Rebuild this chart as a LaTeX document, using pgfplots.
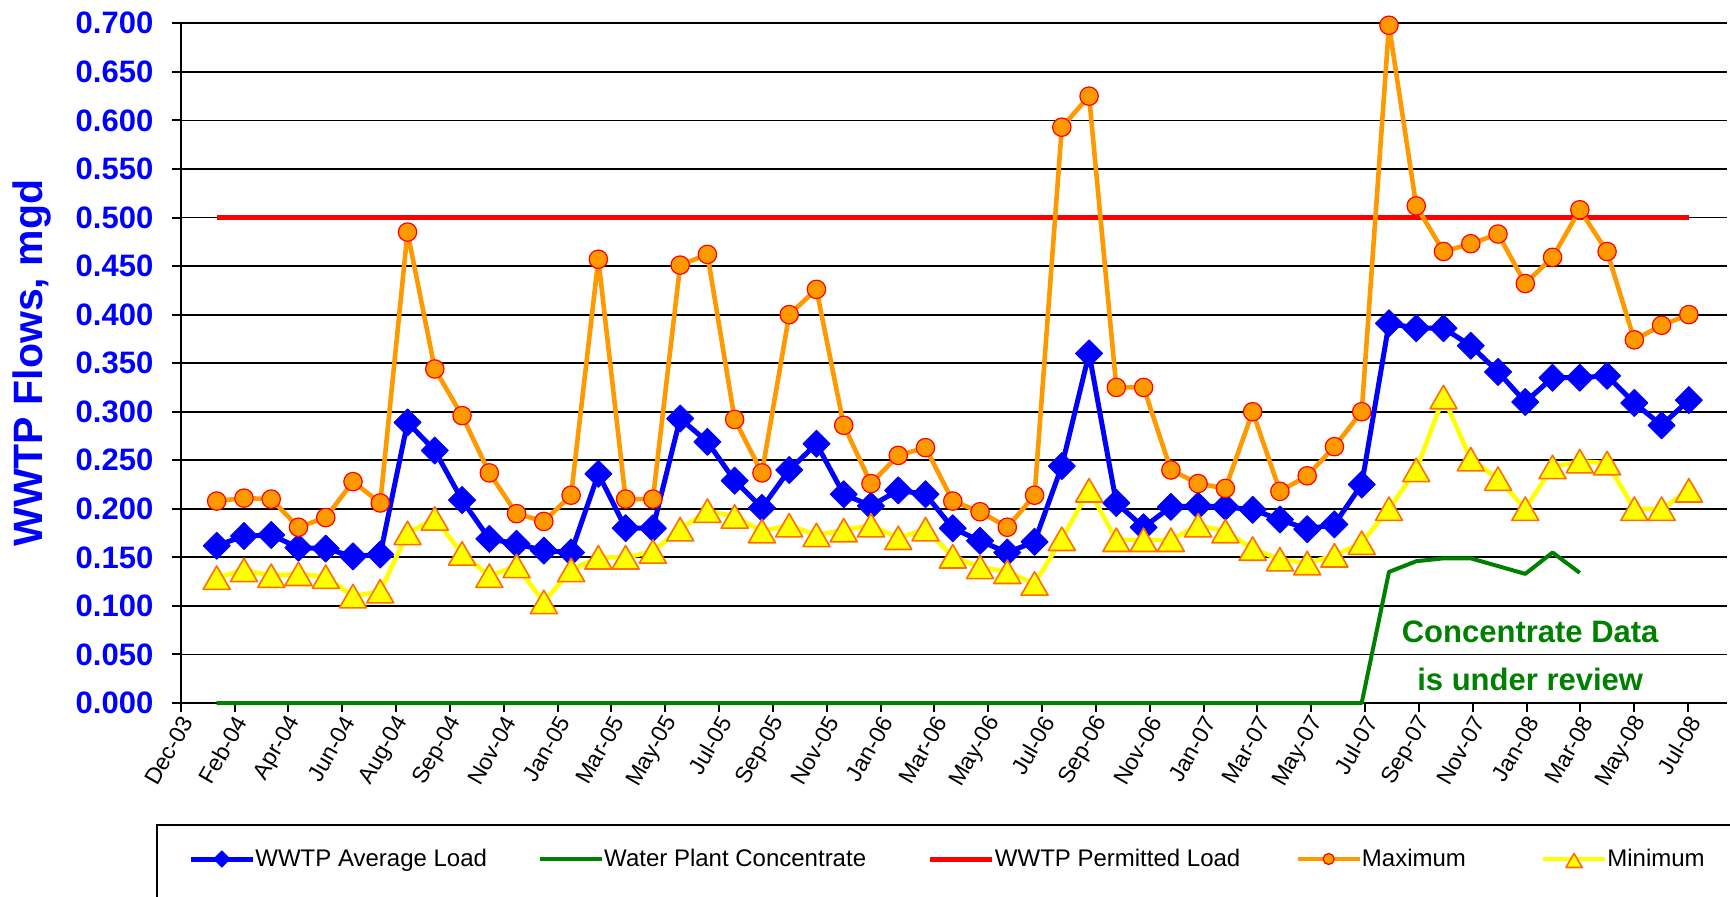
\documentclass[border=0pt]{standalone}
\usepackage{pgfplots}
\pgfplotsset{compat=1.18}
\usepackage{pgfplotstable}
\usepackage{fontspec}
\setmainfont{Liberation Sans}
\definecolor{xlblue}{RGB}{0,0,255}
\definecolor{xlgreen}{RGB}{0,128,0}
\definecolor{xlred}{RGB}{255,0,0}
\definecolor{xlorange}{RGB}{255,153,0}
\definecolor{xlyellow}{RGB}{255,255,0}
\definecolor{xltri}{RGB}{255,110,0}

\pgfplotstableread{
u avg max min
0 0.162 0.208 0.129
1 0.172 0.211 0.137
2 0.173 0.210 0.131
3 0.160 0.181 0.133
4 0.159 0.191 0.130
5 0.151 0.228 0.110
6 0.153 0.206 0.115
7 0.289 0.485 0.175
8 0.260 0.344 0.190
9 0.209 0.296 0.154
10 0.169 0.237 0.131
11 0.164 0.195 0.141
12 0.157 0.187 0.104
13 0.155 0.214 0.137
14 0.236 0.457 0.150
15 0.180 0.210 0.150
16 0.180 0.210 0.156
17 0.293 0.451 0.179
18 0.269 0.462 0.198
19 0.229 0.292 0.192
20 0.201 0.237 0.177
21 0.240 0.400 0.183
22 0.267 0.426 0.173
23 0.215 0.286 0.178
24 0.203 0.226 0.183
25 0.219 0.255 0.170
26 0.215 0.263 0.179
27 0.180 0.208 0.151
28 0.167 0.197 0.140
29 0.155 0.181 0.135
30 0.166 0.214 0.123
31 0.244 0.593 0.169
32 0.360 0.625 0.219
33 0.206 0.325 0.168
34 0.181 0.325 0.168
35 0.202 0.240 0.168
36 0.203 0.226 0.183
37 0.202 0.221 0.177
38 0.199 0.300 0.159
39 0.189 0.218 0.148
40 0.179 0.234 0.144
41 0.184 0.264 0.152
42 0.225 0.300 0.165
43 0.391 0.698 0.200
44 0.386 0.512 0.240
45 0.386 0.465 0.315
46 0.368 0.473 0.251
47 0.341 0.483 0.231
48 0.310 0.432 0.200
49 0.335 0.459 0.243
50 0.335 0.508 0.249
51 0.337 0.465 0.247
52 0.309 0.374 0.200
53 0.286 0.389 0.200
54 0.312 0.400 0.219
}\flows

\pgfplotstableread{
u conc
0 0
42 0
43 0.135
44 0.146
45 0.149
46 0.149
47 0.141
48 0.133
49 0.155
50 0.134
}\conc

\pgfplotstableread{
u permit
0 0.5
54 0.5
}\permit

\begin{document}
\begin{tikzpicture}
\begin{axis}[
  at={(0pt,0pt)}, anchor=south west,
  scale only axis, width=773.15pt, height=339.85pt,
  xmin=-1.32, xmax=55.4, ymin=0, ymax=0.7,
  clip=false,
  axis x line=bottom, axis y line=left,
  axis line style={-, line width=1pt, black},
  ymajorgrids, grid style={black, line width=0.9pt},
  tick align=outside, major tick length=4.5pt,
  tick style={black, line width=1pt},
  ytick={0,0.05,0.1,0.15,0.2,0.25,0.3,0.35,0.4,0.45,0.5,0.55,0.6,0.65,0.7},
  yticklabels={0.000,0.050,0.100,0.150,0.200,0.250,0.300,0.350,0.400,0.450,0.500,0.550,0.600,0.650,0.700},
  y tick label style={font=\fontsize{15.5}{18}\selectfont\bfseries, text=xlblue, inner sep=0pt, anchor=east, xshift=-9pt},
  xtick={-1.320,0.655,2.629,4.604,6.579,8.554,10.528,12.503,14.478,16.452,18.427,20.402,22.376,24.351,26.326,28.301,30.275,32.250,34.225,36.199,38.174,40.149,42.123,44.098,46.073,48.048,50.022,51.997,53.972},
  xticklabels={Dec-03,Feb-04,Apr-04,Jun-04,Aug-04,Sep-04,Nov-04,Jan-05,Mar-05,May-05,Jul-05,Sep-05,Nov-05,Jan-06,Mar-06,May-06,Jul-06,Sep-06,Nov-06,Jan-07,Mar-07,May-07,Jul-07,Sep-07,Nov-07,Jan-08,Mar-08,May-08,Jul-08},
  x tick label style={font=\fontsize{11.5}{13}\selectfont, rotate=60, anchor=east, inner sep=0pt, yshift=-4.5pt, xshift=-1pt},
  ylabel={WWTP Flows, mgd},
  ylabel style={font=\fontsize{20.5}{24}\selectfont\bfseries, text=xlblue, at={(axis description cs:-0.0962,0.5)}, anchor=center},
  legend columns=5,
  legend style={at={(axis description cs:0.00472,-0.2295)}, anchor=west, draw=none, fill=none,
    inner sep=0pt, font=\fontsize{12}{14}\selectfont, nodes={inner xsep=0pt, inner ysep=1pt},
    /tikz/column 2/.style={column sep=25.6pt},
    /tikz/column 4/.style={column sep=30.9pt},
    /tikz/column 6/.style={column sep=27.5pt},
    /tikz/column 8/.style={column sep=37.4pt}},
  legend image code/.code={\draw[mark repeat=2,mark phase=2] plot coordinates {(0pt,0pt) (15.5pt,0pt) (31pt,0pt)};},
  legend image post style={/tikz/every mark/.append style={scale=0.6}},
  every axis plot/.append style={line join=round},
]
\addplot[xlblue, line width=2.5pt, mark=square*, mark size=4.8pt,
  mark options={rotate=45, fill=xlblue, draw=xlblue, line width=0.4pt, solid}]
  table[x=u, y=avg] {\flows};
\addlegendentry{WWTP Average Load}
\addplot[xlgreen, line width=2pt, no marks] table[x=u, y=conc] {\conc};
\addlegendentry{Water Plant Concentrate}
\addplot[xlred, line width=2.5pt, no marks] table[x=u, y=permit] {\permit};
\addlegendentry{WWTP Permitted Load}
\addplot[xlorange, line width=2.3pt, mark=*, mark size=4.6pt,
  mark options={fill=xlorange, draw=xlred, line width=0.6pt, solid}]
  table[x=u, y=max] {\flows};
\addlegendentry{Maximum}
\addplot[xlyellow, line width=2.3pt, mark=triangle*, mark size=7.8pt,
  mark options={fill=xlyellow, draw=xltri, line width=0.8pt, solid, yshift=-1.9pt}]
  table[x=u, y=min] {\flows};
\addlegendentry{Minimum}
\node[font=\fontsize{15.5}{24}\selectfont\bfseries, text=xlgreen, align=center] at (axis cs:48.18,0.0485) {Concentrate Data\\is under review};
\end{axis}
\draw[black, line width=1pt] (-11.7pt,-130pt) -- (-11.7pt,-61pt) -- (800pt,-61pt);
\pgfresetboundingbox
\useasboundingbox (-90.35pt,-96.5pt) rectangle (774.65pt,351.5pt);
\end{tikzpicture}
\end{document}
